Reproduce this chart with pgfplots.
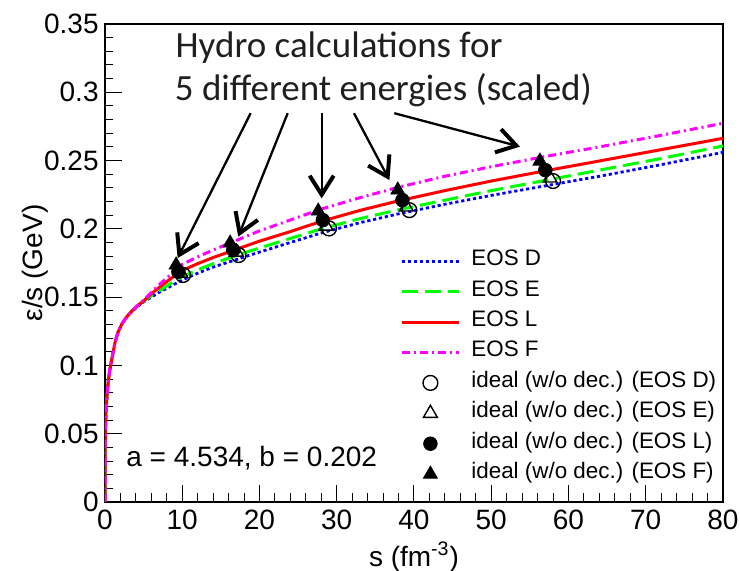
\documentclass[border=0pt]{standalone}
\usepackage{fontspec}
\setmainfont{Liberation Sans}
\newfontfamily\calibri{Carlito}
\usepackage{pgfplots}
\pgfplotsset{compat=1.18}
\usetikzlibrary{arrows.meta}
\definecolor{eosD}{HTML}{0000FF}
\definecolor{eosE}{HTML}{00FF00}
\definecolor{eosL}{HTML}{FF0000}
\definecolor{eosF}{HTML}{FF00FF}
\pgfplotsset{
  lineleg/.style={legend image code/.code={\draw[##1] (0pt,0pt) -- (28.5pt,0pt);}},
  markleg/.style={legend image code/.code={\draw[mark repeat=2,mark phase=2,##1] plot coordinates {(0pt,0pt) (14.25pt,0pt) (28.5pt,0pt)};}},
}

\begin{document}
\begin{tikzpicture}
\begin{axis}[
  at={(0,0)}, anchor=south west,
  width=309pt, height=239pt, scale only axis,
  xmin=0, xmax=80, ymin=0, ymax=0.35,
  xtick={0,10,20,30,40,50,60,70,80},
  ytick={0,0.05,0.1,0.15,0.2,0.25,0.3,0.35},
  minor x tick num=4, minor y tick num=4,
  tick align=inside, xtick pos=bottom, ytick pos=left,
  major tick length=8.5pt, minor tick length=4.25pt,
  axis line style={line width=0.8pt},
  every tick/.style={black, line width=0.5pt},
  scaled y ticks=false,
  /pgf/number format/assume math mode=true,
  tick label style={font=\fontsize{14}{16}\selectfont},
  yticklabel style={/pgf/number format/fixed, /pgf/number format/precision=2, inner sep=0pt, xshift=-3pt},
  xticklabel style={inner sep=0pt, yshift=-4pt},
  xlabel={s (fm\textsuperscript{-3})},
  ylabel={ε/s (GeV)},
  every axis x label/.style={at={(axis description cs:0.5,-0.134)}, anchor=base, font=\fontsize{14}{16}\selectfont},
  every axis y label/.style={at={(axis description cs:-0.1133,0.5)}, rotate=90, anchor=center, font=\fontsize{14}{16}\selectfont},
  legend cell align=left,
  legend style={draw=none, fill=none, at={(axis cs:38.19,0.1848)}, anchor=north west,
    inner sep=0pt, row sep=3.9pt, column sep=5.5pt,
    font=\fontsize{11.2}{12}\selectfont,
    nodes={inner sep=0pt, text height=7.8pt, text depth=3.5pt}},
]
% EOS D
\addplot[eosD, line width=1.4pt, dash pattern=on 1.6pt off 1.4pt, lineleg] coordinates {
(0,0) (0.01,0.03) (0.03,0.045) (0.07,0.057) (0.15,0.068) (0.25,0.077) (0.4,0.087)
(0.6,0.096) (0.8,0.102) (1.0,0.108) (1.3,0.117) (1.7,0.1245) (2.2,0.1305) (2.8,0.1355)
(3.5,0.1395) (4.3,0.1435) (5,0.1465) (6,0.150) (7,0.1535) (8.5,0.158) (10,0.1625)
(12,0.1675) (14,0.172) (17,0.1775) (20,0.183) (24,0.190) (28,0.197) (33,0.2045)
(38,0.211) (44,0.218) (50,0.2245) (57,0.2315) (64,0.2385) (72,0.247) (80,0.256)};
\addlegendentry{EOS D}
% EOS E
\addplot[eosE, line width=1.5pt, dash pattern=on 8pt off 3.5pt, lineleg] coordinates {
(0,0) (0.01,0.03) (0.03,0.045) (0.07,0.057) (0.15,0.068) (0.25,0.077) (0.4,0.087)
(0.6,0.096) (0.8,0.102) (1.0,0.108) (1.3,0.117) (1.7,0.1245) (2.2,0.1305) (2.8,0.1355)
(3.5,0.140) (4.3,0.144) (5,0.147) (6,0.151) (7,0.1545) (8.5,0.160) (10,0.165)
(12,0.170) (14,0.1745) (17,0.1805) (20,0.186) (24,0.193) (28,0.200) (33,0.2075)
(38,0.214) (44,0.221) (50,0.228) (57,0.2355) (64,0.243) (72,0.2515) (80,0.2607)};
\addlegendentry{EOS E}
% EOS L
\addplot[eosL, line width=1.5pt, lineleg] coordinates {
(0,0) (0.01,0.03) (0.03,0.045) (0.07,0.057) (0.15,0.068) (0.25,0.077) (0.4,0.087)
(0.6,0.096) (0.8,0.102) (1.0,0.108) (1.3,0.117) (1.7,0.1245) (2.2,0.1305) (2.8,0.1355)
(3.5,0.140) (4.3,0.144) (5,0.1472) (6,0.1525) (7,0.157) (8.5,0.1635) (10,0.1695)
(12,0.1745) (14,0.179) (17,0.185) (20,0.191) (24,0.198) (28,0.2055) (33,0.2135)
(38,0.2205) (44,0.228) (50,0.235) (57,0.2425) (64,0.2497) (72,0.258) (80,0.2663)};
\addlegendentry{EOS L}
% EOS F
\addplot[eosF, line width=1.5pt, dash pattern=on 4pt off 2pt on 1pt off 2pt, lineleg] coordinates {
(0,0) (0.01,0.03) (0.03,0.045) (0.07,0.057) (0.15,0.068) (0.25,0.077) (0.4,0.087)
(0.6,0.096) (0.8,0.102) (1.0,0.108) (1.3,0.117) (1.7,0.1245) (2.2,0.1305) (2.8,0.1355)
(3.5,0.140) (4.3,0.1443) (5,0.1478) (6,0.1535) (7,0.159) (8.5,0.1665) (10,0.174)
(12,0.1795) (14,0.1845) (17,0.1915) (20,0.1985) (24,0.2065) (28,0.2145) (33,0.2228)
(38,0.2305) (44,0.2385) (50,0.2455) (57,0.253) (64,0.260) (72,0.2685) (80,0.2773)};
\addlegendentry{EOS F}
% ideal hydro points
\addplot[only marks, mark=o, mark size=3.7pt, mark options={black, line width=0.7pt}, markleg] coordinates {
(10.1,0.1662) (17.3,0.1808) (29.0,0.2003) (39.4,0.2137) (58.0,0.2350)};
\addlegendentry{ideal (w/o dec.) (EOS D)}
\addplot[only marks, mark=triangle, mark size=4pt, mark options={black, line width=0.7pt}, markleg] coordinates {
(9.8,0.1676) (17.0,0.1830) (28.6,0.2020) (39.0,0.2160) (57.6,0.2372)};
\addlegendentry{ideal (w/o dec.) (EOS E)}
\addplot[only marks, mark=*, mark size=3.4pt, mark options={black}, markleg] coordinates {
(9.5,0.1686) (16.6,0.1845) (28.2,0.2064) (38.5,0.2210) (57.0,0.2430)};
\addlegendentry{ideal (w/o dec.) (EOS L)}
\addplot[only marks, mark=triangle*, mark size=4pt, mark options={black}, markleg] coordinates {
(9.2,0.1735) (16.2,0.1896) (27.6,0.2130) (37.9,0.2284) (56.3,0.2496)};
\addlegendentry{ideal (w/o dec.) (EOS F)}

% annotation
\node[anchor=base west, inner sep=0pt, font=\fontsize{14}{16}\selectfont] at (axis cs:2.72,0.0258) {a = 4.534, b = 0.202};
\node[anchor=base west, inner sep=0pt, text=black!88, font=\calibri\fontsize{18.5}{22}\selectfont] at (axis cs:9.1,0.3257) {Hydro calculations for};
\node[anchor=base west, inner sep=0pt, text=black!88, font=\calibri\fontsize{18.5}{22}\selectfont] at (axis cs:9.0,0.2943) {5 different energies (scaled)};
\begin{scope}[line width=1.15pt, -{Straight Barb[length=9.5pt, width=12pt, line width=2pt]}]
\draw (axis cs:18.86,0.2847) -- (axis cs:9.41,0.1786);
\draw (axis cs:23.65,0.2847) -- (axis cs:17.25,0.1943);
\draw (axis cs:28.05,0.2847) -- (axis cs:28.05,0.2223);
\draw (axis cs:32.23,0.2847) -- (axis cs:36.82,0.2357);
\draw (axis cs:37.45,0.2847) -- (axis cs:53.72,0.2602);
\end{scope}
\end{axis}
\pgfresetboundingbox
\path (-52.5pt,-34.5pt) rectangle (317.5pt,251pt);
\end{tikzpicture}
\end{document}
